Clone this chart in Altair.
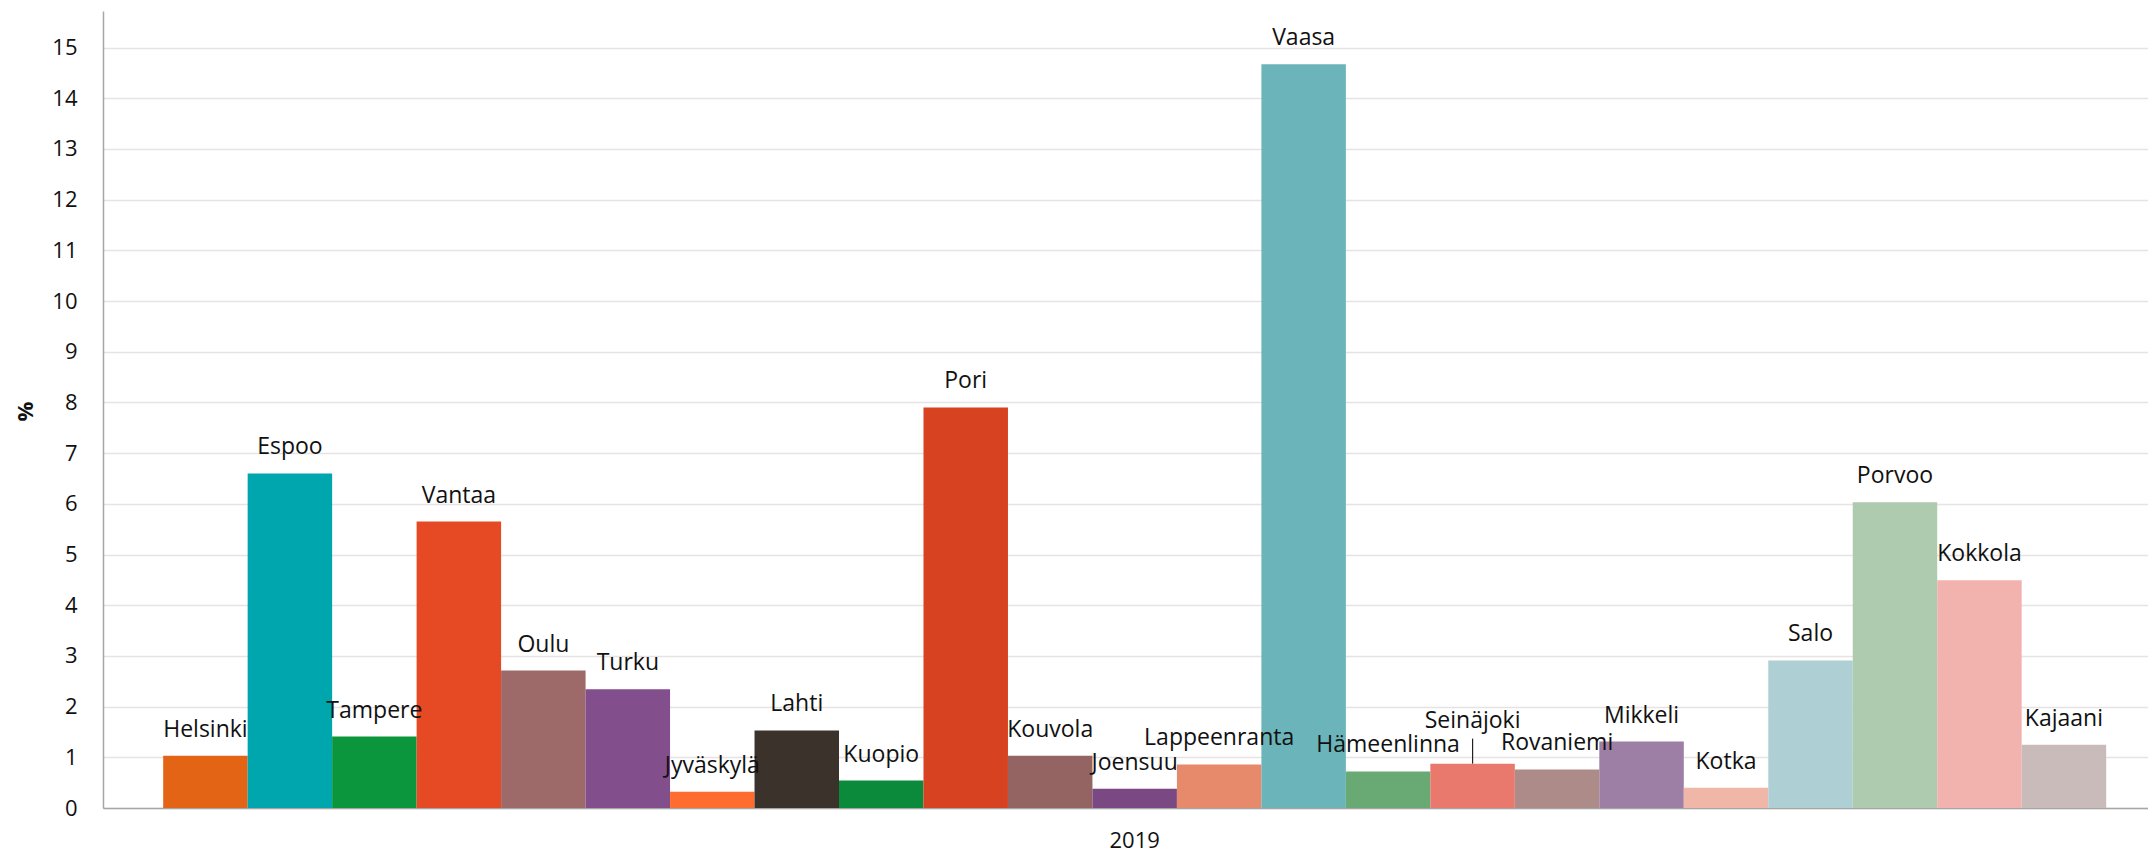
import altair as alt
import pandas as pd

cities = ["Helsinki", "Espoo", "Tampere", "Vantaa", "Oulu", "Turku", "Jyväskylä",
          "Lahti", "Kuopio", "Pori", "Kouvola", "Joensuu", "Lappeenranta", "Vaasa",
          "Hämeenlinna", "Seinäjoki", "Rovaniemi", "Mikkeli", "Kotka", "Salo",
          "Porvoo", "Kokkola", "Kajaani"]
values = [1.03, 6.60, 1.41, 5.65, 2.71, 2.34, 0.32,
          1.53, 0.54, 7.90, 1.03, 0.38, 0.86, 14.67,
          0.72, 0.875, 0.76, 1.31, 0.40, 2.91,
          6.03, 4.49, 1.25]
colors = ["#E36414", "#00A6AE", "#0B963D", "#E54A24", "#9E6A69", "#824E8C", "#FF6C2F",
          "#3B322C", "#0B8A3B", "#D74221", "#936462", "#7A4984", "#E78A6C", "#6BB4B9",
          "#68A974", "#E9786D", "#AD8B88", "#9D7EA4", "#F0B7A9", "#AED0D5",
          "#AECAAF", "#F2B3AF", "#CABBBB"]
year = "2019"
y_ticks = list(range(0, 16))

df = pd.DataFrame({"city": cities, "value": values, "year": [year] * len(cities)})

FONT = "Open Sans"

x_enc = alt.X("year:N",
              scale=alt.Scale(paddingInner=0, paddingOuter=0.02625, align=0.59),
              axis=alt.Axis(title=None, labelAngle=0, ticks=False, domain=True,
                            domainColor="#A6A6A6", domainWidth=1.5,
                            labelFont=FONT, labelFontSize=22, labelColor="#111111",
                            labelPadding=22, grid=False))
xo_enc = alt.XOffset("city:N", sort=cities, scale=alt.Scale(paddingInner=0, paddingOuter=0))
y_enc = alt.Y("value:Q",
              scale=alt.Scale(domain=[0, 15.72], nice=False, zero=True),
              axis=alt.Axis(values=y_ticks, title="%", ticks=False, domain=True,
                            domainColor="#A6A6A6", domainWidth=1.5,
                            gridColor="#E8E2E2", gridWidth=1.3,
                            labelFont=FONT, labelFontSize=22, labelColor="#111111",
                            labelPadding=26,
                            titleFont=FONT, titleFontSize=22, titleFontWeight="bold",
                            titleColor="#111111", titleX=-78, titleY=400,
                            titleBaseline="middle", titleAlign="center"))

base = alt.Chart(df)

bars = base.mark_bar().encode(
    x=x_enc, xOffset=xo_enc, y=y_enc,
    color=alt.Color("city:N", scale=alt.Scale(domain=cities, range=colors), legend=None),
)

labels = base.transform_filter(alt.datum.city != "Seinäjoki").mark_text(
    baseline="alphabetic", dy=-19, font=FONT, fontSize=23, color="#111111"
).encode(x=x_enc, xOffset=xo_enc, y=y_enc, text="city:N")

sein_label = base.transform_filter(alt.datum.city == "Seinäjoki").mark_text(
    baseline="alphabetic", dy=-36, font=FONT, fontSize=23, color="#111111"
).encode(x=x_enc, xOffset=xo_enc, y=y_enc, text="city:N")

sein_rule = base.transform_filter(alt.datum.city == "Seinäjoki").mark_rule(
    color="#222222", strokeWidth=1.2, y2Offset=-25
).encode(x=x_enc, xOffset=xo_enc, y=y_enc, y2=alt.Y2("value:Q"))

chart = alt.layer(bars, sein_rule, labels, sein_label).properties(
    width=2045, height=797,
    autosize=alt.AutoSizeParams(type="none"),
    padding={"left": 103, "top": 11, "right": 0, "bottom": 44},
    background="white",
).configure_view(stroke=None)

chart.save("out.html", embed_options={"renderer": "svg", "actions": False})
